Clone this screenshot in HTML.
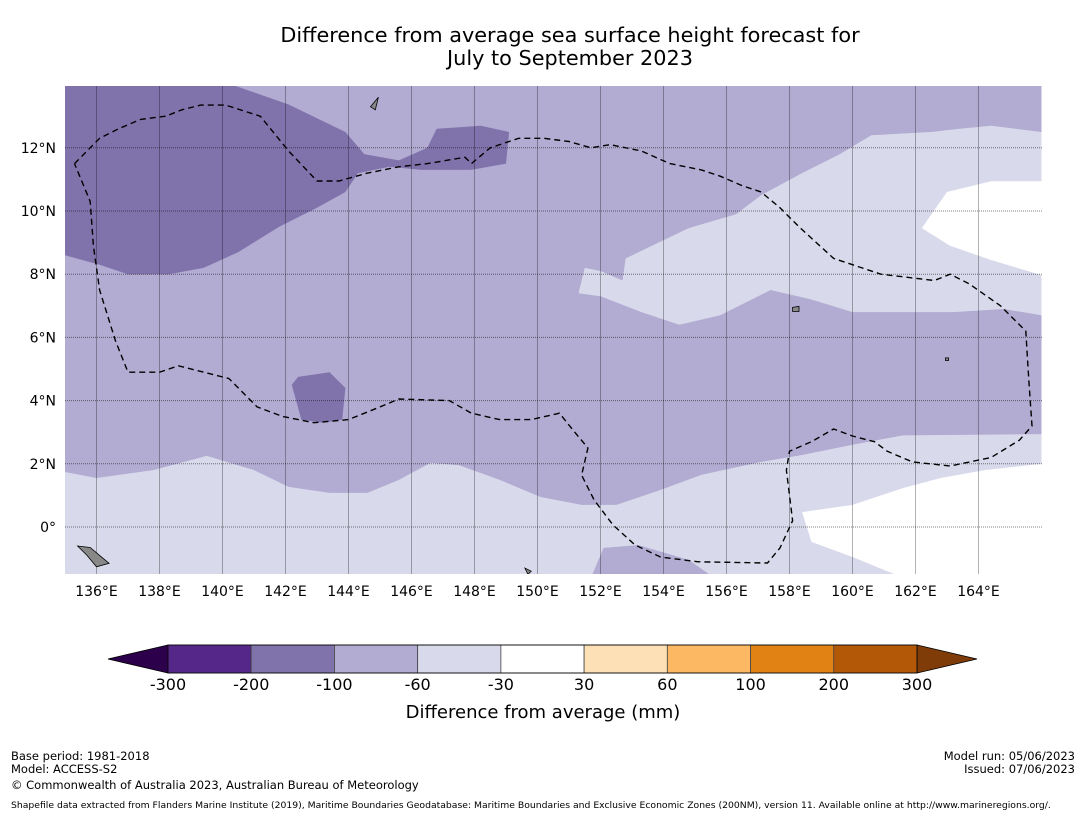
<!DOCTYPE html>
<html><head><meta charset="utf-8"><style>
body{margin:0;background:#fff;width:1085px;height:816px;overflow:hidden;font-family:"Liberation Sans","DejaVu Sans",sans-serif}
</style></head><body>
<svg id="s" width="1085" height="816" xmlns="http://www.w3.org/2000/svg" font-family="DejaVu Sans, Liberation Sans, sans-serif">
<text x="570" y="42" font-size="20.8" text-anchor="middle">Difference from average sea surface height forecast for</text>
<text x="570" y="65" font-size="20.8" text-anchor="middle">July to September 2023</text>
<defs><clipPath id="mc"><rect x="65" y="86" width="977" height="488"/></clipPath></defs>
<g id="map" clip-path="url(#mc)"></g>
<g id="ax"></g>
<g id="cb"></g>
<text x="543" y="718" font-size="18" text-anchor="middle">Difference from average (mm)</text>
<g font-size="11.5">
<text x="11" y="760">Base period: 1981-2018</text>
<text x="11" y="773">Model: ACCESS-S2</text>
<text x="11" y="789">© Commonwealth of Australia 2023, Australian Bureau of Meteorology</text>
<text x="1075" y="760" text-anchor="end">Model run: 05/06/2023</text>
<text x="1075" y="773" text-anchor="end">Issued: 07/06/2023</text>
<text x="11" y="808" font-size="9.25">Shapefile data extracted from Flanders Marine Institute (2019), Maritime Boundaries Geodatabase: Maritime Boundaries and Exclusive Economic Zones (200NM), version 11. Available online at http://www.marineregions.org/.</text>
</g>
</svg>
<script>
const lonTicks=[136,138,140,142,144,146,148,150,152,154,156,158,160,162,164];
const latTicks=[0,2,4,6,8,10,12];
const cbLevels=[-300,-200,-100,-60,-30,30,60,100,200,300];
const cbColors=["#542788","#8073ac","#b2abd2","#d8daeb","#ffffff","#fee0b6","#fdb863","#e08214","#b35806"];
const cbExtLow="#2d004b", cbExtHigh="#7f3b08";
const bgMedium=[[135,-1.5],[166,-1.5],[166,14],[135,14]];
const lightSouth=[[135,1.74],[136,1.55],[137.8,1.8],[139.5,2.25],[141,1.8],[142.1,1.27],[143.4,1.08],[144.6,1.08],[145.6,1.49],[146.6,2.03],[147.5,1.96],[148.8,1.49],[150.1,0.95],[151.4,0.7],[152.5,0.7],[153.9,1.17],[155.2,1.65],[157.1,2.06],[158.4,2.28],[160,2.6],[161.6,2.9],[166,2.94],[166,-1.6],[135,-1.6]];
const mediumSouthPatch=[[151.7,-1.6],[152.1,-0.66],[153.2,-0.57],[154.8,-1.04],[155.6,-1.6]];
const lightNorth=[[166,12.5],[164.4,12.7],[163.4,12.6],[162.5,12.5],[160.6,12.4],[159.6,11.8],[158.4,11.2],[157.1,10.5],[156.3,9.9],[154.8,9.46],[152.8,8.5],[152.7,7.8],[152,8.1],[151.5,8.2],[151.3,7.4],[152,7.3],[153.3,6.8],[154.5,6.4],[155.8,6.7],[157.4,7.5],[158.7,7.2],[160,6.8],[161.6,6.8],[163.2,6.8],[164.8,6.9],[166,6.7]];
const whiteNorth=[[166,10.94],[164.4,10.94],[163,10.6],[162.2,9.46],[163.1,8.9],[164.4,8.45],[166,7.97]];
const whiteSouth=[[166,2.0],[164.2,1.8],[162.8,1.55],[161.6,1.23],[160,0.7],[158.4,0.47],[158.7,-0.47],[160,-0.95],[161.6,-1.6],[166,-1.6]];
const darkNW=[[135,14.1],[140,14.1],[142.1,13.37],[143.9,12.5],[144.5,11.8],[145.6,11.6],[146.5,12.0],[146.8,12.6],[148.2,12.7],[149.1,12.5],[149,11.5],[147.9,11.3],[146.3,11.3],[145.3,11.4],[144.3,11.2],[143.9,10.6],[143,10.1],[141.8,9.5],[140.5,8.7],[139.4,8.2],[138.3,8.0],[137,8.0],[136.1,8.3],[135,8.6]];
const darkPatch=[[142.2,4.5],[142.4,4.75],[143.4,4.9],[143.9,4.4],[143.8,3.4],[143.2,3.3],[142.5,3.4]];
const eez=[[135.3,11.5],[135.8,12.0],[136.1,12.3],[136.7,12.6],[137.4,12.9],[138.2,13.0],[138.7,13.2],[139.3,13.35],[140.1,13.35],[141.2,13.0],[142.1,11.9],[143,10.95],[143.7,10.95],[144.6,11.2],[145.6,11.4],[146.5,11.5],[147.7,11.7],[147.9,11.5],[148.5,12.0],[149.4,12.3],[150.2,12.3],[151,12.2],[151.7,12.0],[152.3,12.1],[153.3,11.9],[154.2,11.5],[155.2,11.3],[155.8,11.1],[156.5,10.8],[157.1,10.6],[157.7,10.1],[158.3,9.5],[159.4,8.5],[160.9,8.0],[162.6,7.8],[163.1,8.0],[163.7,7.7],[164.7,7.0],[165.5,6.2],[165.6,4.6],[165.7,3.2],[165.3,2.75],[164.4,2.2],[163.1,1.93],[161.9,2.06],[161.1,2.4],[160.7,2.7],[160,2.88],[159.4,3.1],[158.7,2.7],[158.0,2.4],[157.9,1.8],[158.1,0.2],[157.7,-0.66],[157.3,-1.14],[155.1,-1.1],[153.9,-0.95],[153.1,-0.57],[152.4,0.06],[151.8,0.85],[151.4,1.64],[151.6,2.5],[151.1,3.1],[150.7,3.6],[149.8,3.4],[148.8,3.4],[147.9,3.6],[147.2,4.0],[145.6,4.05],[145,3.8],[144,3.4],[142.9,3.3],[141.9,3.5],[141.1,3.8],[140.3,4.6],[140.2,4.7],[138.6,5.1],[138,4.9],[137,4.9],[136.6,5.9],[136.1,7.5],[135.9,8.9],[135.8,10.3],[135.3,11.5]];
const islands=[[[135.4,-0.6],[135.8,-0.65],[136.1,-0.9],[136.4,-1.15],[136.0,-1.26],[135.7,-0.9]],[[144.7,13.3],[144.95,13.6],[144.85,13.2]],[[158.1,6.95],[158.3,6.98],[158.3,6.82],[158.1,6.82]],[[162.95,5.35],[163.05,5.35],[163.05,5.27],[162.95,5.27]],[[149.6,-1.3],[149.8,-1.4],[149.7,-1.5]]];
const NS="http://www.w3.org/2000/svg";
const X=lon=>65+(lon-135)*31.5, Y=lat=>527-lat*31.6;
const map=document.getElementById('map'),ax=document.getElementById('ax'),cb=document.getElementById('cb');
function mk(tag,attrs,parent){const e=document.createElementNS(NS,tag);for(const k in attrs)e.setAttribute(k,attrs[k]);parent.appendChild(e);return e;}
function pts(a){return a.map(p=>X(p[0]).toFixed(1)+','+Y(p[1]).toFixed(1)).join(' ');}
function poly(a,fill,name){const e=mk('polygon',{points:pts(a),fill:fill},map);

}
poly(bgMedium,"#b2abd2","region-100-to-60");
poly(lightSouth,"#d8daeb","region-60-to-30-south");
poly(mediumSouthPatch,"#b2abd2","region-100-to-60-south-patch");
poly(lightNorth,"#d8daeb","region-60-to-30-north");
poly(whiteNorth,"#ffffff","region-neutral-north");
poly(whiteSouth,"#ffffff","region-neutral-south");
poly(darkNW,"#8073ac","region-200-to-100-northwest");
poly(darkPatch,"#8073ac","region-200-to-100-patch");
lonTicks.forEach(l=>{const e=mk('line',{x1:X(l),x2:X(l),y1:86,y2:574,stroke:'#000','stroke-opacity':0.3,'stroke-width':1},map);

});
latTicks.forEach(l=>{const e=mk('line',{x1:65,x2:1042,y1:Y(l),y2:Y(l),stroke:'#000','stroke-opacity':0.5,'stroke-width':1,'stroke-dasharray':'1,1'},map);

});
islands.forEach((a,i)=>{const e=mk('polygon',{points:pts(a),fill:'#888',stroke:'#000','stroke-width':0.8},map);

});
const ez=mk('polyline',{points:pts(eez),fill:'none',stroke:'#000','stroke-width':1.4,'stroke-dasharray':'6,4'},map);


lonTicks.forEach(l=>{const t=mk('text',{x:X(l),y:596,'font-size':14,'text-anchor':'middle'},ax);t.textContent=l+'°E';

});
latTicks.forEach(l=>{const t=mk('text',{x:56,y:Y(l)+5,'font-size':14,'text-anchor':'end'},ax);t.textContent=l===0?'0°':l+'°N';

});
const cx0=168,cx1=917,cy0=645,cy1=673,seg=(cx1-cx0)/cbColors.length;
const tl=mk('polygon',{points:`${cx0},${cy0} ${cx0},${cy1} 108,659`,fill:cbExtLow,stroke:'#000','stroke-width':0.8},cb);


const tr=mk('polygon',{points:`${cx1},${cy0} ${cx1},${cy1} 977,659`,fill:cbExtHigh,stroke:'#000','stroke-width':0.8},cb);


cbColors.forEach((c,i)=>{const r=mk('rect',{x:cx0+i*seg,y:cy0,width:seg,height:cy1-cy0,fill:c,stroke:'#444','stroke-width':0.8},cb);

});
mk('rect',{x:cx0,y:cy0,width:cx1-cx0,height:cy1-cy0,fill:'none',stroke:'#000','stroke-width':0.8},cb);
cbLevels.forEach((v,i)=>{const t=mk('text',{x:cx0+i*seg,y:690,'font-size':16,'text-anchor':'middle'},cb);t.textContent=v;

});
</script>
</body></html>
